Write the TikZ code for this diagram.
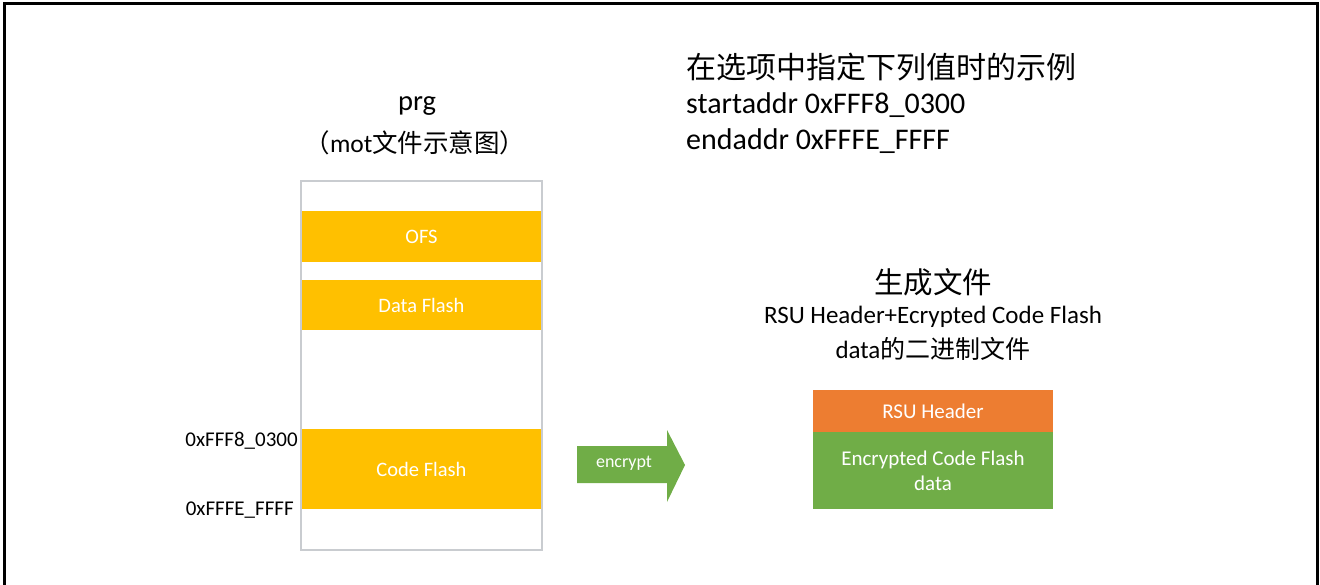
\documentclass[tikz,border=0pt]{standalone}
\usepackage{fontspec}
\setmainfont{Carlito}
\newfontfamily\cjk{Noto Sans CJK SC}
\definecolor{ofsyellow}{HTML}{FFC000}
\definecolor{rsuorange}{HTML}{ED7D31}
\definecolor{encgreen}{HTML}{70AD47}
\definecolor{boxgray}{HTML}{C9CCD0}
\begin{document}
\begin{tikzpicture}[x=1pt,y=-1pt,
  region/.style={fill=ofsyellow, text=white, font=\fontsize{20.5}{22}\selectfont, inner sep=0pt},
  addr/.style={anchor=east, font=\fontsize{21}{23}\selectfont, inner sep=0pt},
  title/.style={font=\fontsize{25}{30}\selectfont, inner sep=0pt, align=center},
]
\useasboundingbox (0,0) rectangle (1320,585);
% outer frame
\draw[line width=3pt] (4,585) -- (4,4) -- (1317,4) -- (1317,585);

% prg box
\node[draw=boxgray, line width=1.5pt, minimum width=241pt, minimum height=369pt, inner sep=0pt] (prg) at (421.5,365.5) {};
\node[region, minimum width=239pt, minimum height=51pt] (ofs) at (421.5,236.5) {OFS};
\node[region, minimum width=239pt, minimum height=50pt] (df) at (421.5,305) {Data Flash};
\node[region, minimum width=239pt, minimum height=80pt] (cf) at (421.5,469) {Code Flash};

\node[addr] (a1) at (298,441) {0xFFF8\_0300};
\node[addr] (a2) at (294,510) {0xFFFE\_FFFF};

\node[title, font=\fontsize{28.5}{32}\selectfont] (prgt) at (417,106) {prg};
\node[title, font=\fontsize{25.5}{30}\selectfont] (prgs) at (415,143) {{\cjk （}mot{\cjk 文件示意图）}};

% encrypt arrow
\fill[encgreen] (577,446) -- (667,446) -- (667,430) -- (685,465) -- (667,502) -- (667,483) -- (577,483) -- cycle;
\node[text=white, font=\fontsize{18}{20}\selectfont, inner sep=0pt] (enc) at (624,463) {encrypt};

% right side
\node[title, anchor=west, align=left, font=\fontsize{30}{35.5}\selectfont] (cond) at (686,103)
  {{\cjk 在选项中指定下列值时的示例}\\startaddr 0xFFF8\_0300\\endaddr 0xFFFE\_FFFF};

\node[title, font=\fontsize{29.5}{32}\selectfont] (gen) at (933,282) {\cjk 生成文件};
\node[title, font=\fontsize{25}{35}\selectfont] (gen2) at (933,333) {RSU Header+Ecrypted Code Flash\\data{\cjk 的二进制文件}};

\node[fill=rsuorange, text=white, minimum width=240pt, minimum height=42pt, inner sep=0pt, font=\fontsize{21}{23}\selectfont] (rsu) at (933,411) {RSU Header};
\node[fill=encgreen, text=white, minimum width=240pt, minimum height=77pt, inner sep=0pt, align=center, font=\fontsize{21}{25}\selectfont] (ecf) at (933,470.5) {Encrypted Code Flash\\data};
\end{tikzpicture}
\end{document}
